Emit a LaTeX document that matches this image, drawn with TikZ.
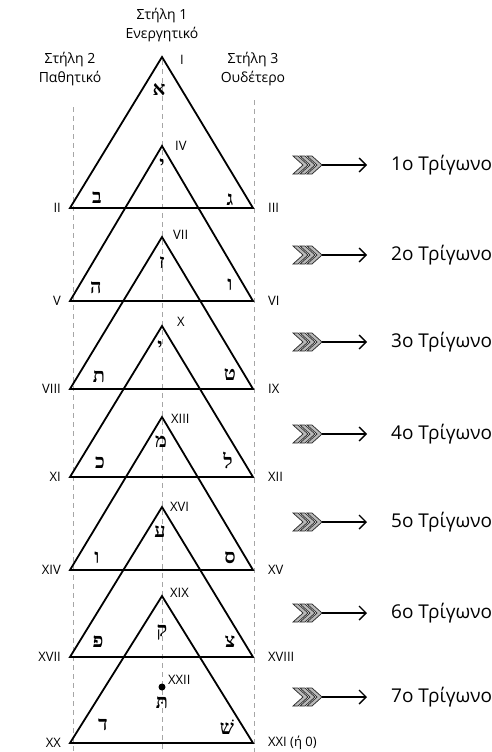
\documentclass[tikz,border=0pt]{standalone}
\usepackage{fontspec}
\setmainfont{Open Sans}
\newfontfamily\hebfont[Script=Hebrew]{Liberation Serif}
\TeXXeTstate=1
\usetikzlibrary{arrows.meta}
\newcommand{\heb}[1]{{\hebfont\bfseries\beginR #1\endR}}
\begin{document}
\begin{tikzpicture}[x=1pt,y=-1pt,
	tri/.style={line width=1.8pt},
	colline/.style={color=gray!70,line width=0.9pt,dash pattern=on 5pt off 4pt},
	head/.style={font=\fontsize{14}{19.5}\selectfont,align=center,inner sep=0pt},
	numlbl/.style={font=\fontsize{13}{13}\selectfont,inner sep=0pt},
	letter/.style={font=\fontsize{20}{20}\selectfont,inner sep=0pt},
	trilbl/.style={font=\fontsize{19}{19}\selectfont,anchor=west,inner sep=0pt},
	fletch/.style={fill=gray!55,draw=black!85,line width=0.7pt}]
		\useasboundingbox (0,0) rectangle (492,752);
		\node[head] (col1) at (162,25) {Στήλη 1\\Ενεργητικό};
		\node[head] (col2) at (70,69) {Στήλη 2\\Παθητικό};
		\node[head] (col3) at (253,69) {Στήλη 3\\Ουδέτερο};
		\draw[colline] (73,107)--(73,752);
		\draw[colline] (162,60)--(162,752);
		\draw[colline] (254,100)--(254,752);
		% triangles
		\foreach \n/\a/\b/\rl/\rr in {1/57/208/II/III, 2/146/301/V/VI, 3/237/389/VIII/IX, 4/326/477/XI/XII, 5/417/570/XIV/XV, 6/507/657/XVII/XVIII, 7/596/743/XX/{XXI (ή 0)}}{
			\coordinate (top\n) at (162,\a);
			\coordinate (bl\n) at (70,\b);
			\coordinate (br\n) at (253,\b);
			\draw[tri] (top\n)--(bl\n)--(br\n)--cycle;
			\node[numlbl,anchor=east] (nl\n) at (61,\b) {\rl};
			\node[numlbl,anchor=west] (nr\n) at (268,\b) {\rr};
		}
		\node[numlbl,anchor=west] (na1) at (180,60) {I};
		\node[numlbl,anchor=west] (na2) at (175,146) {IV};
		\node[numlbl,anchor=west] (na3) at (173,235) {VII};
		\node[numlbl,anchor=west] (na4) at (177,322) {X};
		\node[numlbl,anchor=west] (na5) at (171,419) {XIII};
		\node[numlbl,anchor=west] (na6) at (170,507) {XVI};
		\node[numlbl,anchor=west] (na7) at (170,593) {XIX};
		\node[numlbl,anchor=west] (na8) at (168,680) {XXII};
		\node[circle,fill,inner sep=0pt,minimum size=7pt] (dot) at (162,687) {};
		% letters
		\node[letter] (h1) at (159,90) {\heb{א}};
		\node[letter] (h2) at (97,198) {\heb{ב}};
		\node[letter] (h3) at (230,200) {\heb{ג}};
		\node[letter] (h4) at (162,165) {\heb{י}};
		\node[letter] (h5) at (96,288) {\heb{ה}};
		\node[letter] (h6) at (230,285) {\heb{ו}};
		\node[letter] (h7) at (162,263) {\heb{ז}};
		\node[letter] (h8) at (99,377) {\heb{ת}};
		\node[letter] (h9) at (230,375) {\heb{ט}};
		\node[letter] (h10) at (160,347) {\heb{י}};
		\node[letter] (h11) at (100,463) {\heb{כ}};
		\node[letter] (h12) at (228,460) {\heb{ל}};
		\node[letter] (h13) at (161,442) {\heb{מ}};
		\node[letter] (h14) at (97,558) {\heb{ו}};
		\node[letter] (h15) at (230,558) {\heb{ס}};
		\node[letter] (h16) at (160,532) {\heb{ע}};
		\node[letter] (h17) at (98,642) {\heb{פ}};
		\node[letter] (h18) at (230,642) {\heb{צ}};
		\node[letter] (h19) at (162,633) {\heb{ק}};
		\node[letter] (h20) at (103,725) {\heb{ד}};
		\node[letter] (h21) at (227,727) {\heb{שׁ}};
		\node[letter] (h22) at (162,703) {\heb{תּ}};
		% arrows
		\foreach \n/\y in {1/165, 2/255, 3/342, 4/434, 5/522, 6/613, 7/697}{
			\node[trilbl] (tr\n) at (391,\y) {{\n}ο Τρίγωνο};
			\coordinate (fl\n) at (322,\y);
			\foreach \d in {-29,-22,-15}
				\draw[fletch,shift={(fl\n)}] (\d,-9)--++(5,0)--++(10,9)--++(-10,9)--++(-5,0)--++(10,-9)--cycle;
			\draw[line width=1.4pt,-{Straight Barb[length=7pt,width=14pt]},shorten >=24pt] (fl\n)--(tr\n.west);
		}
	\end{tikzpicture}
\end{document}
